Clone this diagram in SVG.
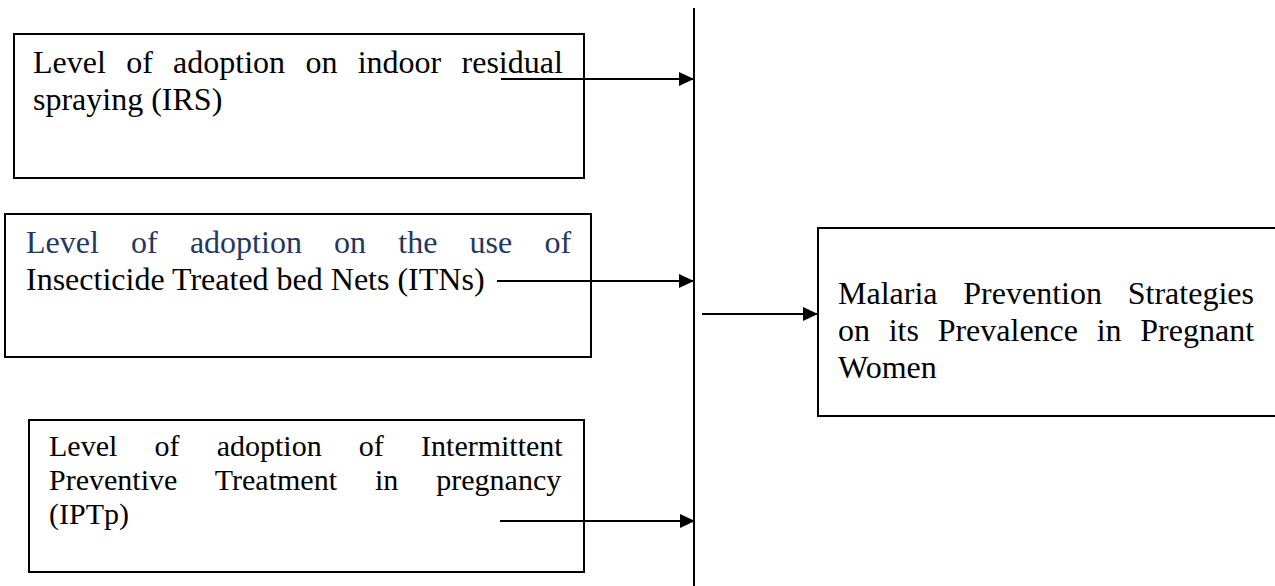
<svg xmlns="http://www.w3.org/2000/svg" width="1275" height="586" viewBox="0 0 1275 586">
<style>
.box{fill:#fff;stroke:#000;stroke-width:2}
.t{font-family:"Liberation Serif","Times New Roman",serif;font-size:32px;fill:#000}
.s{font-size:30px}
.blue{fill:#1f3864}
.c{stroke:#000;stroke-width:2;fill:none}
</style>
<defs>
<marker id="ah" markerUnits="userSpaceOnUse" markerWidth="16" markerHeight="14" refX="15" refY="7" orient="auto">
<path d="M0,0 L15,7 L0,14 z" fill="#000"/>
</marker>
</defs>
<rect width="1275" height="586" fill="#fff"/>
<g id="n1">
<rect class="box" x="14" y="34" width="570" height="144"/>
<text class="t"><tspan x="33" y="73" word-spacing="12.3">Level of adoption on indoor residual</tspan><tspan x="33" y="110">spraying (IRS)</tspan></text>
</g>
<g id="n2">
<rect class="box" x="5" y="214" width="586" height="143"/>
<text class="t"><tspan class="blue" x="26" y="253" word-spacing="24.2">Level of adoption on the use of</tspan><tspan x="26" y="290">Insecticide Treated bed Nets (ITNs)</tspan></text>
</g>
<g id="n3">
<rect class="box" x="29" y="420" width="555" height="152"/>
<text class="t s"><tspan x="49" y="456" word-spacing="29.7">Level of adoption of Intermittent</tspan><tspan x="49" y="490" word-spacing="30.5">Preventive Treatment in pregnancy</tspan><tspan x="49" y="524">(IPTp)</tspan></text>
</g>
<g id="n4">
<rect class="box" x="818" y="228" width="470" height="188"/>
<text class="t"><tspan x="838" y="304" word-spacing="17.8">Malaria Prevention Strategies</tspan><tspan x="838" y="341" word-spacing="10.7">on its Prevalence in Pregnant</tspan><tspan x="838" y="378">Women</tspan></text>
</g>
<g id="connectors">
<line class="c" x1="694" y1="8" x2="694" y2="586"/>
<line class="c" x1="501" y1="79" x2="694" y2="79" marker-end="url(#ah)"/>
<line class="c" x1="497" y1="281" x2="694" y2="281" marker-end="url(#ah)"/>
<line class="c" x1="500" y1="521" x2="695" y2="521" marker-end="url(#ah)"/>
<line class="c" x1="702" y1="314" x2="818" y2="314" marker-end="url(#ah)"/>
</g>
</svg>
